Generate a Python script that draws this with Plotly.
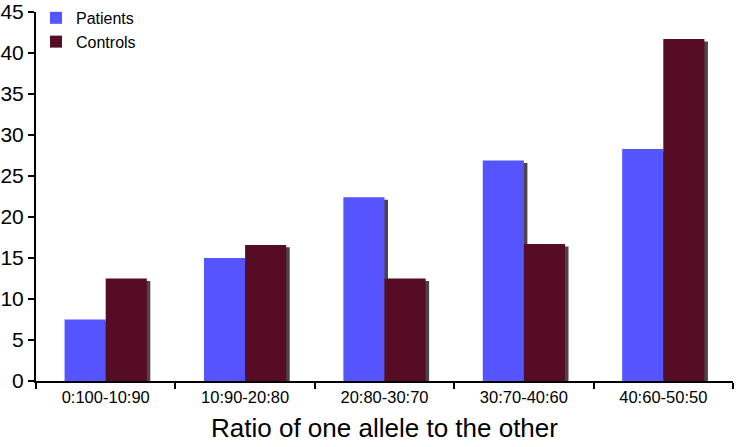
import plotly.graph_objects as go

categories = ["0:100-10:90", "10:90-20:80", "20:80-30:70", "30:70-40:60", "40:60-50:50"]
patients = [7.5, 15.0, 22.4, 26.9, 28.3]
controls = [12.5, 16.6, 12.5, 16.7, 41.7]

BAR_W = 0.295
SHADOW = "#4d4545"

fig = go.Figure()

# drop shadows behind the bars
for vals, off in [(patients, -BAR_W), (controls, 0.0)]:
    fig.add_trace(go.Bar(
        x=categories, y=[v - 0.3 for v in vals],
        width=BAR_W, offset=off + 0.025,
        marker=dict(color=SHADOW, line=dict(width=0)),
        showlegend=False, hoverinfo="skip"
    ))

fig.add_trace(go.Bar(
    x=categories, y=patients, name="Patients",
    width=BAR_W, offset=-BAR_W,
    marker=dict(color="#5555ff", line=dict(width=0))
))
fig.add_trace(go.Bar(
    x=categories, y=controls, name="Controls",
    width=BAR_W, offset=0.0,
    marker=dict(color="#560c24", line=dict(width=0))
))

fig.update_layout(
    width=738, height=447,
    barmode="overlay",
    paper_bgcolor="white", plot_bgcolor="white",
    margin=dict(l=36, r=5, t=12, b=66, autoexpand=False),
    font=dict(family="Liberation Sans, Arial, sans-serif", color="black"),
    legend=dict(
        x=0.0, y=1.03, xanchor="left", yanchor="top",
        font=dict(size=16), bgcolor="rgba(0,0,0,0)",
        tracegroupgap=0, itemwidth=30
    ),
    xaxis=dict(
        title=dict(text="Ratio of one allele to the other", font=dict(size=26), standoff=14),
        showline=True, linecolor="black", linewidth=2,
        ticks="outside", tickson="boundaries", ticklen=6, tickwidth=2, tickcolor="black",
        tickfont=dict(size=16.5), showgrid=False, automargin=False
    ),
    yaxis=dict(
        range=[0, 45], dtick=5,
        showline=True, linecolor="black", linewidth=2,
        ticks="outside", ticklen=6, tickwidth=2, tickcolor="black",
        tickfont=dict(size=21), showgrid=False, zeroline=False, automargin=False,
        ticklabeloverflow="allow"
    ),
)

# page body has an 8px default margin; drop it so the figure fills the window
fig.write_html("out.html", config={"displayModeBar": False},
               post_script="document.body.style.margin='0';")
